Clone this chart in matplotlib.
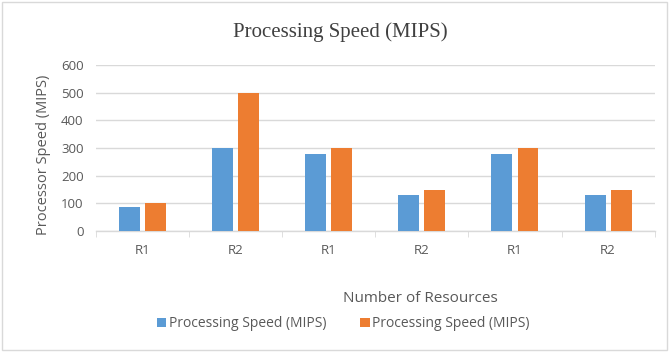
import numpy as np
import matplotlib.pyplot as plt
from matplotlib.patches import Rectangle

# данные
categories = ["R1", "R2", "R1", "R2", "R1", "R2"]
speed_blue = [87, 300, 278, 130, 280, 130]
speed_orange = [100, 500, 300, 150, 300, 150]
series_names = ["Processing Speed (MIPS)", "Processing Speed (MIPS)"]

plt.rcParams['font.family'] = ['Open Sans', 'DejaVu Sans']
txt = '#595959'

fig = plt.figure(figsize=(6.69, 3.54), dpi=100)
ax = fig.add_axes([0.1435, 0.347, 0.835, 0.469])

x = np.arange(len(categories))
w = 0.225
ax.bar(x - 0.14, speed_blue, w, color='#5b9bd5', label=series_names[0], zorder=3)
ax.bar(x + 0.14, speed_orange, w, color='#ed7d31', label=series_names[1], zorder=3)

ax.set_ylim(0, 600)
ax.set_yticks(range(0, 601, 100))
ax.set_xlim(-0.5, len(categories) - 0.5)
ax.set_xticks(x)
ax.set_xticklabels(categories)
ax.set_xticks(np.arange(-0.5, len(categories)), minor=True)
ax.tick_params(axis='x', which='major', length=0, pad=9, labelsize=9.5, colors=txt)
ax.tick_params(axis='x', which='minor', length=4, color='#d9d9d9')
ax.tick_params(axis='y', length=0, pad=9, labelsize=9.5, colors=txt)
ax.grid(axis='y', color='#d9d9d9', linewidth=1, zorder=0)
for s in ['top', 'right', 'left']:
    ax.spines[s].set_visible(False)
ax.spines['bottom'].set_color('#d9d9d9')
ax.spines['bottom'].set_linewidth(1)

ax.set_ylabel("Processor Speed (MIPS)", fontsize=10.5, color=txt)
ax.yaxis.set_label_coords(-0.08, 0.46)
fig.text(0.628, 0.158, "Number of Resources", ha='center', va='center', fontsize=11, color=txt)
fig.text(0.508, 0.91, "Processing Speed (MIPS)", ha='center', va='center',
         fontsize=15, color='#404040', family='Liberation Serif')

ax.legend(loc='center', bbox_to_anchor=(0.513, 0.085), bbox_transform=fig.transFigure,
          ncol=2, frameon=False, fontsize=10, labelcolor=txt,
          handlelength=0.7, handleheight=0.7, handletextpad=0.2, columnspacing=2.4)

# рамка вокруг рисунка
fig.patches.append(Rectangle((0.003, 0.01), 0.994, 0.985, transform=fig.transFigure,
                             fill=False, edgecolor='#d9d9d9', linewidth=1))

fig.savefig('out.png', dpi=100)
